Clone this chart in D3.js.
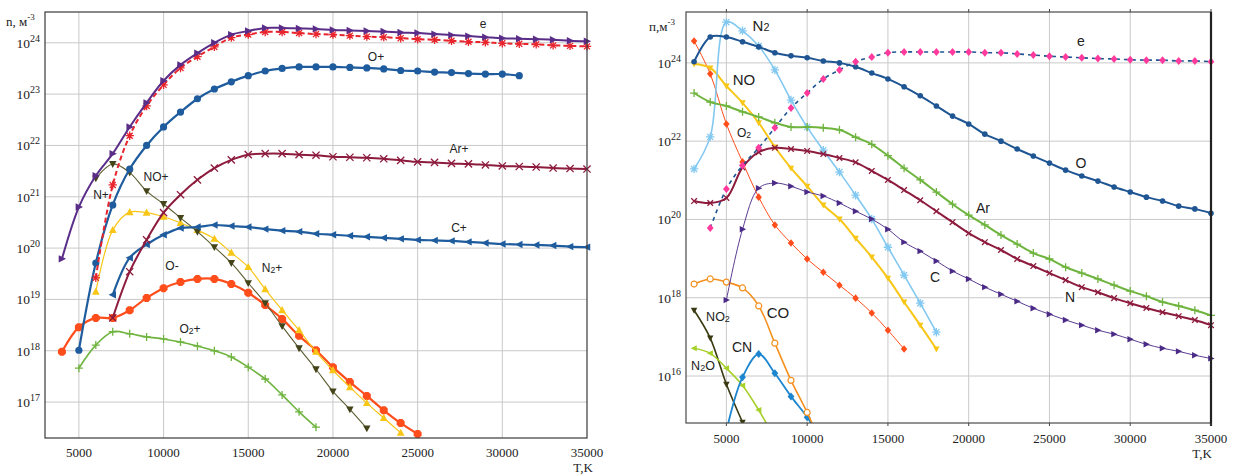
<!DOCTYPE html>
<html><head><meta charset="utf-8">
<script src="https://cdn.jsdelivr.net/npm/d3@7"></script>
<style>body{margin:0;background:#fff}svg{display:block}</style>
</head><body><svg id="c" width="1236" height="476"></svg>
<script>
// ---------- DATA (values are log10 of n, м^-3; points every 1000 K) ----------
const xTicks = [5000, 10000, 15000, 20000, 25000, 30000, 35000];
const leftYTicks = [17, 18, 19, 20, 21, 22, 23, 24];   // exponents of 10
const rightYTicks = [16, 18, 20, 22, 24];

// Left panel: ions
const L_e_T0 = 4000;
const L_e = [19.79,20.80,21.41,21.84,22.36,22.83,23.26,23.57,23.80,24.00,24.16,24.23,24.29,24.29,24.28,24.27,24.25,24.24,24.23,24.22,24.20,24.19,24.17,24.15,24.13,24.11,24.09,24.08,24.07,24.06,24.04,24.03];
const L_Np_T0 = 6000;
const L_Np = [19.42,21.23,22.19,22.77,23.18,23.51,23.73,23.92,24.10,24.16,24.21,24.21,24.19,24.17,24.16,24.14,24.12,24.11,24.09,24.07,24.06,24.04,24.02,24.01,23.99,23.98,23.97,23.95,23.94,23.93];
const L_Op_T0 = 5000;
const L_Op = [18.01,19.71,20.84,21.54,22.00,22.36,22.65,22.91,23.10,23.24,23.36,23.45,23.50,23.53,23.53,23.53,23.52,23.51,23.49,23.46,23.45,23.43,23.42,23.40,23.39,23.39,23.36];
const L_Arp_T0 = 7000;
const L_Arp = [18.64,19.54,20.16,20.69,21.04,21.33,21.56,21.72,21.82,21.84,21.84,21.82,21.81,21.78,21.77,21.76,21.74,21.71,21.68,21.67,21.65,21.64,21.62,21.60,21.59,21.58,21.56,21.55,21.54];
const L_Cp_T0 = 7000;
const L_Cp = [19.09,19.81,20.07,20.26,20.39,20.41,20.45,20.43,20.41,20.37,20.34,20.32,20.28,20.26,20.24,20.22,20.20,20.18,20.16,20.15,20.14,20.12,20.10,20.08,20.07,20.06,20.05,20.03,20.02];
const L_NOp_T0 = 6000;
const L_NOp = [21.36,21.64,21.47,21.11,20.86,20.59,20.32,20.02,19.71,19.32,18.93,18.48,18.05,17.64,17.21,16.86,16.49];
const L_N2p_T0 = 6000;
const L_N2p = [19.15,20.35,20.70,20.69,20.61,20.49,20.35,20.18,19.91,19.63,19.20,18.79,18.40,17.98,17.62,17.29,16.98,16.69,16.40];
const L_Om_T0 = 4000;
const L_Om = [17.98,18.46,18.64,18.64,18.79,19.03,19.22,19.34,19.40,19.40,19.30,19.13,18.89,18.62,18.29,18.01,17.68,17.39,17.12,16.84,16.59,16.38];
const L_O2p_T0 = 5000;
const L_O2p = [17.66,18.11,18.37,18.33,18.27,18.23,18.17,18.09,18.00,17.88,17.68,17.45,17.14,16.81,16.51];

// Right panel: neutrals and electrons
const R_O_T0 = 3000;
const R_O = [24.03,24.66,24.66,24.54,24.41,24.26,24.18,24.13,24.05,24.00,23.90,23.74,23.59,23.39,23.16,22.90,22.64,22.44,22.18,22.00,21.80,21.62,21.44,21.26,21.11,20.98,20.83,20.70,20.57,20.47,20.34,20.27,20.16];
const R_e_T0 = 4000;
const R_e = [19.78,20.78,21.38,21.83,22.34,22.85,23.23,23.59,23.82,24.03,24.15,24.26,24.28,24.28,24.28,24.28,24.28,24.26,24.26,24.23,24.20,24.17,24.15,24.13,24.11,24.10,24.08,24.07,24.07,24.05,24.05,24.03];
const R_N2_T0 = 3000;
const R_N2 = [21.29,22.11,25.04,24.82,24.43,23.82,23.05,22.36,21.77,21.21,20.62,20.01,19.29,18.58,17.86,17.12];
const R_NO_T0 = 3000;
const R_NO = [23.97,23.87,23.41,22.98,22.47,21.85,21.31,20.85,20.37,20.01,19.52,19.04,18.50,17.89,17.30,16.69];
const R_O2_T0 = 3000;
const R_O2 = [24.56,23.72,22.44,21.47,20.57,19.86,19.40,18.99,18.65,18.32,17.99,17.61,17.17,16.69];
const R_Ar_T0 = 3000;
const R_Ar = [23.23,23.00,22.90,22.75,22.62,22.47,22.36,22.36,22.34,22.29,22.10,21.92,21.63,21.31,21.01,20.70,20.39,20.11,19.86,19.60,19.37,19.14,18.99,18.78,18.63,18.48,18.32,18.17,18.04,17.89,17.79,17.68,17.55];
const R_N_T0 = 3000;
const R_N = [20.47,20.42,20.55,21.33,21.72,21.83,21.80,21.75,21.67,21.57,21.46,21.24,21.01,20.75,20.49,20.21,19.93,19.65,19.42,19.22,18.99,18.81,18.63,18.45,18.27,18.14,17.99,17.86,17.74,17.63,17.53,17.43,17.30];
const R_C_T0 = 5000;
const R_C = [17.94,19.75,20.80,20.93,20.85,20.70,20.60,20.42,20.21,20.01,19.75,19.42,19.19,18.94,18.68,18.48,18.27,18.09,17.91,17.73,17.58,17.43,17.30,17.17,17.07,16.94,16.81,16.71,16.63,16.53,16.45];
const R_CO_T0 = 3000;
const R_CO = [18.35,18.48,18.40,18.25,17.79,16.84,15.89,15.07,14.13];
const R_CN_T0 = 5000;
const R_CN = [14.60,15.97,16.56,16.07,15.48,14.95,14.31];
const R_NO2_T0 = 3000;
const R_NO2 = [17.68,16.97,15.79,14.82];
const R_N2O_T0 = 3000;
const R_N2O = [16.71,16.58,16.20,15.76,15.13,14.40];

// ---------- DRAWING ----------
const svg = d3.select('#c');
const SERIF = "'Liberation Serif','DejaVu Serif',serif";
const SANS = "'Liberation Sans',Arial,sans-serif";

function toPts(t0, lg) { return lg.map((v, i) => ({T: t0 + i * 1000, n: Math.pow(10, v)})); }

function markerPath(type, s) {
  switch (type) {
    case 'triR': return `M${-s*0.7},${-s*0.8}L${s*0.9},0L${-s*0.7},${s*0.8}Z`;
    case 'triL': return `M${s*0.7},${-s*0.8}L${-s*0.9},0L${s*0.7},${s*0.8}Z`;
    case 'triD': return `M${-s*0.85},${-s*0.65}L${s*0.85},${-s*0.65}L0,${s*0.9}Z`;
    case 'triU': return `M${-s*0.85},${s*0.65}L${s*0.85},${s*0.65}L0,${-s*0.9}Z`;
    case 'diamond': return `M0,${-s}L${s*0.85},0L0,${s}L${-s*0.85},0Z`;
    case 'oct': { const a = s*0.42; return `M${-a},${-s}L${a},${-s}L${s},${-a}L${s},${a}L${a},${s}L${-a},${s}L${-s},${a}L${-s},${-a}Z`; }
    case 'plus': return `M${-s},0H${s}M0,${-s}V${s}`;
    case 'x': return `M${-s},${-s}L${s},${s}M${-s},${s}L${s},${-s}`;
    case 'star': { const d = s*0.72; return `M${-s},0H${s}M0,${-s}V${s}M${-d},${-d}L${d},${d}M${-d},${d}L${d},${-d}`; }
    default: return d3.symbol(d3.symbolCircle, Math.PI*s*s)();
  }
}
const strokeOnly = new Set(['plus','x','star']);

function panel(cfg) {
  const {x, y, clipId} = cfg;
  const g = svg.append('g');
  const [x0, x1] = x.range(); const [y0, y1] = y.range();
  svg.append('clipPath').attr('id', clipId).append('rect')
    .attr('x', x0 - 6).attr('y', y1).attr('width', x1 - x0 + 12).attr('height', y0 - y1);
  // grid
  g.selectAll('.vg').data(cfg.vgrid).join('line')
    .attr('x1', d => x(d)).attr('x2', d => x(d)).attr('y1', y1).attr('y2', y0)
    .attr('stroke', '#c9c9c9').attr('stroke-width', 1);
  g.selectAll('.hg').data(cfg.hgrid).join('line')
    .attr('x1', x0).attr('x2', x1).attr('y1', d => y(Math.pow(10, d))).attr('y2', d => y(Math.pow(10, d)))
    .attr('stroke', '#c9c9c9').attr('stroke-width', 1);
  // series
  const sg = svg.append('g').attr('clip-path', `url(#${clipId})`);
  cfg.series.forEach(s => {
    const pts = toPts(s.t0, s.lg);
    const line = d3.line().x(d => x(d.T)).y(d => y(d.n)).curve(d3.curveCatmullRom.alpha(0.5));
    sg.append('path').attr('d', line(pts)).attr('fill', 'none')
      .attr('stroke', s.line || s.color).attr('stroke-width', s.w)
      .attr('stroke-dasharray', s.dash || null).attr('stroke-linejoin', 'round');
    const ms = sg.append('g');
    pts.forEach(p => {
      const so = strokeOnly.has(s.m);
      ms.append('path').attr('transform', `translate(${x(p.T)},${y(p.n)})`)
        .attr('d', markerPath(s.m, s.ms))
        .attr('fill', so ? 'none' : (s.open ? '#fff' : (s.mc || s.color)))
        .attr('stroke', so || s.open ? (s.mc || s.color) : 'none')
        .attr('stroke-width', so ? 1.3 : (s.open ? 1.2 : 0));
    });
  });
  // frame
  const fr = svg.append('g').attr('fill', 'none');
  fr.append('rect').attr('x', x0).attr('y', y1).attr('width', x1 - x0).attr('height', y0 - y1)
    .attr('stroke', cfg.frame).attr('stroke-width', 1.2);
  if (cfg.thickRight) fr.append('line').attr('x1', x1).attr('x2', x1).attr('y1', y1).attr('y2', y0 + 3)
    .attr('stroke', '#222').attr('stroke-width', 2.2);
  if (cfg.outerTicks) {
    fr.selectAll('.tt').data(xTicks).join('line').attr('x1', d => x(d)).attr('x2', d => x(d))
      .attr('y1', y1 - 3).attr('y2', y1).attr('stroke', '#444');
    fr.selectAll('.bt').data(xTicks).join('line').attr('x1', d => x(d)).attr('x2', d => x(d))
      .attr('y1', y0).attr('y2', y0 + 3).attr('stroke', '#444');
  }
  // x tick labels
  svg.append('g').selectAll('text').data(xTicks).join('text')
    .attr('x', d => x(d)).attr('y', cfg.xLabelY).attr('text-anchor', 'middle')
    .attr('font-family', SERIF).attr('font-size', 13).attr('fill', '#222').text(d => d);
  // y tick labels with superscript
  const yt = svg.append('g').selectAll('text').data(cfg.yTicks).join('text')
    .attr('x', x0 - 5).attr('y', d => y(Math.pow(10, d)) + 5).attr('text-anchor', 'end')
    .attr('font-family', SERIF).attr('font-size', 13.5).attr('fill', '#222');
  yt.append('tspan').text('10');
  yt.append('tspan').attr('dy', -6).attr('font-size', 10).text(d => d);
  // axis titles
  const yl = svg.append('text').attr('x', cfg.yTitle[0]).attr('y', cfg.yTitle[1])
    .attr('font-family', SERIF).attr('font-size', 13).attr('fill', '#222');
  yl.append('tspan').text(cfg.yTitle[2]);
  yl.append('tspan').attr('dy', -6).attr('font-size', 9).text('-3');
  svg.append('text').attr('x', cfg.tk[0]).attr('y', cfg.tk[1]).attr('text-anchor', 'middle')
    .attr('font-family', SERIF).attr('font-size', 13).attr('fill', '#222').text('T,K');
  // series labels
  cfg.labels.forEach(l => {
    const t = svg.append('text').attr('x', l.x).attr('y', l.y).attr('text-anchor', 'middle')
      .attr('dominant-baseline', 'central').attr('font-family', SANS).attr('font-size', l.fs).attr('fill', '#222');
    if (l.bg) t.attr('stroke', '#fff').attr('stroke-width', 5).attr('paint-order', 'stroke');
    l.parts.forEach(p => {
      const ts = t.append('tspan').text(p[0]);
      if (p[1] === 'sub') ts.attr('font-size', l.fs * 0.72).attr('dy', 2);
      if (p[1] === 'back') ts.attr('dy', -2);
    });
  });
}

// Left panel
const xL = d3.scaleLinear([3000, 35000], [45, 587]);
const yL = d3.scaleLog([Math.pow(10, 16.3), Math.pow(10, 24.6)], [438, 12]);
panel({
  x: xL, y: yL, clipId: 'clipL', vgrid: [5000,10000,15000,20000,25000,30000], hgrid: leftYTicks,
  yTicks: leftYTicks, frame: '#3a3a3a', xLabelY: 457, yTitle: [6, 26, 'n, м'], tk: [583, 472],
  series: [
    {t0: L_O2p_T0, lg: L_O2p, color: '#6fb43f', w: 1.6, m: 'plus', ms: 4},
    {t0: L_Om_T0, lg: L_Om, color: '#ff4d1c', w: 2.2, m: 'oct', ms: 4},
    {t0: L_N2p_T0, lg: L_N2p, color: '#f7c617', w: 1.2, m: 'triU', ms: 4.6},
    {t0: L_NOp_T0, lg: L_NOp, color: '#44441a', line: '#5c5c30', w: 1.1, m: 'triD', ms: 4.4},
    {t0: L_Cp_T0, lg: L_Cp, color: '#1e5c9e', w: 2.2, m: 'triL', ms: 4.6},
    {t0: L_Arp_T0, lg: L_Arp, color: '#8d1b3d', w: 2, m: 'x', ms: 3.6},
    {t0: L_Op_T0, lg: L_Op, color: '#1e5c9e', w: 2.2, m: 'circle', ms: 3.6},
    {t0: L_Np_T0, lg: L_Np, color: '#e8242c', w: 2, dash: '5,3', m: 'star', ms: 4.2},
    {t0: L_e_T0, lg: L_e, color: '#5a2d88', w: 2, m: 'triR', ms: 4.6},
  ],
  labels: [
    {x: 483, y: 24, fs: 12, parts: [['e']]},
    {x: 376, y: 57, fs: 12, parts: [['O+']]},
    {x: 459, y: 149, fs: 12, parts: [['Ar+']]},
    {x: 459, y: 228, fs: 12, parts: [['C+']]},
    {x: 101, y: 195, fs: 12, parts: [['N+']]},
    {x: 156, y: 177, fs: 12, parts: [['NO+']]},
    {x: 272, y: 268, fs: 12, parts: [['N'], ['2', 'sub'], ['+', 'back']]},
    {x: 172, y: 266, fs: 12, parts: [['O-']]},
    {x: 190, y: 329, fs: 12, parts: [['O'], ['2', 'sub'], ['+', 'back']]},
  ]
});

// Right panel
const xR = d3.scaleLinear([2500, 35000], [686, 1211]);
const yR = d3.scaleLog([Math.pow(10, 14.8), Math.pow(10, 25.3)], [423, 12]);
panel({
  x: xR, y: yR, clipId: 'clipR', vgrid: [5000,10000,15000,20000,25000,30000], hgrid: rightYTicks,
  yTicks: rightYTicks, frame: '#4a4a4a', thickRight: true, outerTicks: true, xLabelY: 443,
  yTitle: [649, 31, 'п,м'], tk: [1202, 458],
  series: [
    {t0: R_NO2_T0, lg: R_NO2, color: '#3a3a12', w: 1.6, m: 'triD', ms: 3.8},
    {t0: R_N2O_T0, lg: R_N2O, color: '#a6d02a', w: 1.6, m: 'triL', ms: 3.8},
    {t0: R_CN_T0, lg: R_CN, color: '#1b86cf', w: 1.8, m: 'diamond', ms: 4},
    {t0: R_CO_T0, lg: R_CO, color: '#f5901e', w: 1.6, m: 'circle', ms: 3, open: true},
    {t0: R_O2_T0, lg: R_O2, color: '#ff4d1c', w: 1, m: 'diamond', ms: 3.8},
    {t0: R_NO_T0, lg: R_NO, color: '#f7c617', w: 2, m: 'triD', ms: 3.8},
    {t0: R_N2_T0, lg: R_N2, color: '#82c8f0', w: 1.6, m: 'star', ms: 4.2},
    {t0: R_C_T0, lg: R_C, color: '#4a2a86', line: '#5b3c92', w: 1, m: 'triR', ms: 4},
    {t0: R_Ar_T0, lg: R_Ar, color: '#6fb43f', w: 2, m: 'plus', ms: 4},
    {t0: R_N_T0, lg: R_N, color: '#8d1b3d', w: 2, m: 'x', ms: 2.8},
    {t0: R_O_T0, lg: R_O, color: '#1e5592', w: 2, m: 'circle', ms: 2.8},
    {t0: R_e_T0, lg: R_e, color: '#ff3a9d', line: '#1e5592', w: 1.6, dash: '4,4', m: 'diamond', ms: 4},
  ],
  labels: [
    {x: 1081, y: 41, fs: 14, parts: [['e']]},
    {x: 1081, y: 163, fs: 14, parts: [['O']]},
    {x: 983, y: 208, fs: 14, parts: [['Ar']]},
    {x: 1070, y: 297, fs: 14, bg: true, parts: [['N']]},
    {x: 935, y: 277, fs: 14, parts: [['C']]},
    {x: 761, y: 25, fs: 15, parts: [['N'], ['2', 'sub']]},
    {x: 744, y: 79, fs: 15, parts: [['NO']]},
    {x: 744, y: 133, fs: 12, parts: [['O'], ['2', 'sub']]},
    {x: 778, y: 312, fs: 15, parts: [['CO']]},
    {x: 742, y: 347, fs: 14, parts: [['CN']]},
    {x: 718, y: 317, fs: 12.5, parts: [['NO'], ['2', 'sub']]},
    {x: 703, y: 366, fs: 12.5, parts: [['N'], ['2', 'sub'], ['O', 'back']]},
  ]
});
</script></body></html>
